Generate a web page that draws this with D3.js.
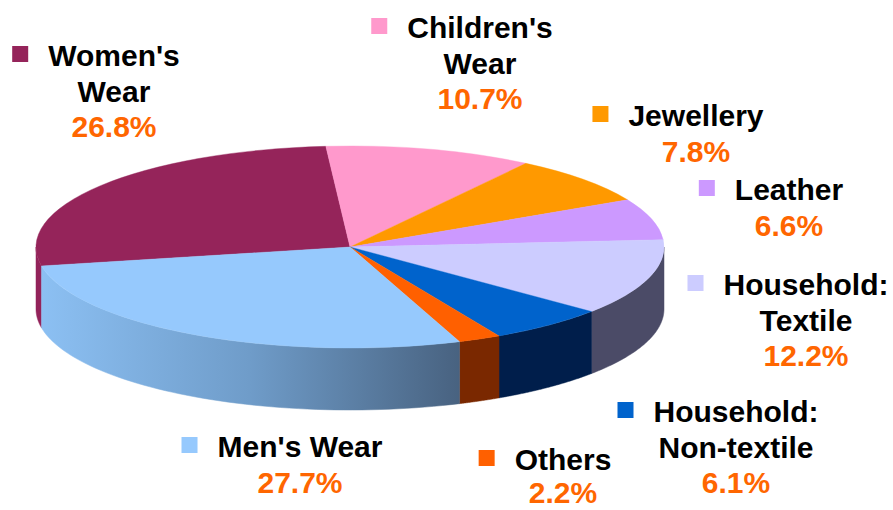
<!DOCTYPE html>
<html>
<head>
<meta charset="utf-8">
<script src="https://cdn.jsdelivr.net/npm/d3@7"></script>
<style>
  html, body { margin: 0; padding: 0; background: #ffffff; }
  svg { display: block; }
  text { font-family: "Liberation Sans", Arial, Helvetica, sans-serif; font-weight: bold; }
</style>
</head>
<body>
<svg id="chart" width="893" height="510"></svg>
<script>
// ---- data ----
const categories = ["Women's Wear", "Children's Wear", "Jewellery", "Leather",
  "Household: Textile", "Household: Non-textile", "Others", "Men's Wear"];
const values = [26.8, 10.7, 7.8, 6.6, 12.2, 6.1, 2.2, 27.7];
const labelLines = [["Women's", "Wear"], ["Children's", "Wear"], ["Jewellery"], ["Leather"],
  ["Household:", "Textile"], ["Household:", "Non-textile"], ["Others"], ["Men's Wear"]];

// ---- styles / layout ----
const topColors = ["#95245a", "#ff99cc", "#ff9900", "#cc99ff", "#ccccff", "#0063cc", "#ff6000", "#96c9fd"];
const sideColors = ["#93235a", "#d77aa8", "#c77700", "#9f72cc", "#4b4b67", "#001e4b", "#7a2800", "url(#menSide)"];
const labelLayout = [
  { x: 114, y: 66, gap: 35.5 }, { x: 480, y: 38, gap: 35.5 }, { x: 696, y: 126, gap: 35.5 },
  { x: 789, y: 200, gap: 35.5 }, { x: 806, y: 295, gap: 35.5 }, { x: 736, y: 422, gap: 35.5 },
  { x: 563, y: 470, gap: 33 }, { x: 300, y: 457, gap: 35.5 }
];
const cx = 350, cy = 247, rx = 314, ry = 101, depth = 62;

const svg = d3.select("#chart");
const defs = svg.append("defs");
const grad = defs.append("linearGradient").attr("id", "menSide")
  .attr("gradientUnits", "userSpaceOnUse")
  .attr("x1", 40).attr("y1", 0).attr("x2", 460).attr("y2", 0);
grad.append("stop").attr("offset", 0).attr("stop-color", "#8cc0f3");
grad.append("stop").attr("offset", 0.5).attr("stop-color", "#6f9cc9");
grad.append("stop").attr("offset", 1).attr("stop-color", "#486280");

const startA = -100.8 * Math.PI / 180;
const pie = d3.pie().sort(null).value(d => d)
  .startAngle(startA).endAngle(startA + 2 * Math.PI);
const arcs = pie(values);

// ---- side walls (front half only) ----
const ex = a => cx + rx * Math.sin(a);
const ey = (a, dy) => cy - ry * Math.cos(a) + dy;
const side = svg.append("g");
arcs.forEach((d, i) => {
  const a0 = d.startAngle, a1 = d.endAngle;
  const norm = a => ((a % (2 * Math.PI)) + 2 * Math.PI) % (2 * Math.PI);
  const s = norm(a0); const e = s + (a1 - a0);
  const lo = Math.PI / 2, hi = 3 * Math.PI / 2;
  const ss = Math.max(s, lo), ee = Math.min(e, hi);
  if (ee <= ss) return;
  const n = 60;
  const p = d3.path();
  for (let k = 0; k <= n; k++) {
    const a = ss + (ee - ss) * k / n;
    if (k === 0) p.moveTo(ex(a), ey(a, 0)); else p.lineTo(ex(a), ey(a, 0));
  }
  for (let k = n; k >= 0; k--) {
    const a = ss + (ee - ss) * k / n;
    p.lineTo(ex(a), ey(a, depth));
  }
  p.closePath();
  side.append("path").attr("d", p.toString())
    .attr("fill", sideColors[i]).attr("stroke", sideColors[i]).attr("stroke-width", 0.5);
});

// ---- top faces ----
const arcGen = d3.arc().innerRadius(0).outerRadius(rx);
svg.append("g")
  .attr("transform", `translate(${cx},${cy}) scale(1,${ry / rx})`)
  .selectAll("path").data(arcs).join("path")
  .attr("d", arcGen)
  .attr("fill", (d, i) => topColors[i])
  .attr("stroke", (d, i) => topColors[i])
  .attr("stroke-width", 0.6);

// ---- labels ----
const fmt = d3.format(".1f");
const lab = svg.append("g");
categories.forEach((c, i) => {
  const L = labelLayout[i];
  const lines = labelLines[i];
  let first;
  lines.forEach((t, j) => {
    const tx = lab.append("text").attr("x", L.x).attr("y", L.y + j * L.gap)
      .attr("text-anchor", "middle").attr("font-size", 30).attr("fill", "#000")
      .text(t);
    if (j === 0) first = tx;
  });
  lab.append("text").attr("x", L.x).attr("y", L.y + lines.length * L.gap)
    .attr("text-anchor", "middle").attr("font-size", 30).attr("fill", "#ff6600")
    .text(fmt(values[i]) + "%");
  const w = first.node().getComputedTextLength();
  lab.append("rect")
    .attr("x", L.x - w / 2 - 20 - 16).attr("y", L.y - 20)
    .attr("width", 16).attr("height", 16)
    .attr("fill", topColors[i]);
});
</script>
</body>
</html>
